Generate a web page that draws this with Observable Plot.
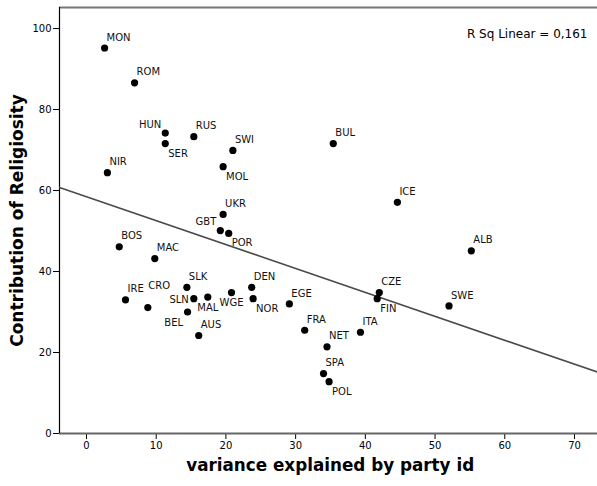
<!DOCTYPE html>
<html><head><meta charset="utf-8">
<script src="https://cdn.jsdelivr.net/npm/d3@7"></script>
<script src="https://cdn.jsdelivr.net/npm/@observablehq/plot@0.6"></script>
<style>body{margin:0;background:#fff} svg{display:block}</style>
</head><body><div id="chart"></div>
<script>
// ---- data ----
const countries = ["MON","ROM","HUN","SER","RUS","SWI","MOL","NIR","UKR","BUL","ICE","GBT","POR","BOS","MAC","SLK","IRE","CRO","SLN","MAL","BEL","WGE","AUS","DEN","NOR","EGE","FRA","NET","SPA","POL","ITA","CZE","FIN","SWE","ALB"];
const partyVariance = [2.6,6.9,11.3,11.3,15.4,21.0,19.6,3.0,19.6,35.4,44.6,19.2,20.4,4.7,9.8,14.4,5.6,8.8,15.4,17.4,14.5,20.8,16.1,23.7,23.9,29.1,31.3,34.5,34.0,34.8,39.3,42.0,41.7,52.0,55.2];
const religiosity = [95.2,86.6,74.2,71.6,73.3,69.9,65.9,64.4,54.1,71.6,57.1,50.1,49.4,46.1,43.2,36.1,33.0,31.1,33.3,33.7,30.0,34.8,24.2,36.1,33.3,32.0,25.5,21.4,14.8,12.8,25.0,34.8,33.3,31.5,45.1];
// label placement code relative to each point
const labelPlacement = ["ar","ar","al","br","ar","ar","br","ar","ar","ar","ar","al","br","ar","ar","ar","ar","ar2","l","bc","bl","bc","ar","ar","br","ar","ar","ar","ar","br","ar","ar","br","ar","ar"];
const xTicks = [0,10,20,30,40,50,60,70];
const yTicks = [0,20,40,60,80,100];
const xTitle = "variance explained by party id";
const yTitle = "Contribution of Religiosity";
const rsqText = "R Sq Linear = 0,161";

const data = countries.map((c, i) => ({c, x: partyVariance[i], y: religiosity[i], p: labelPlacement[i]}));

// least squares fit from the data
const mx = d3.mean(data, d => d.x), my = d3.mean(data, d => d.y);
const slope = d3.sum(data, d => (d.x - mx) * (d.y - my)) / d3.sum(data, d => (d.x - mx) ** 2);
const intercept = my - slope * mx;
const xDomain = [-3.87, 73.3];
const yDomain = [0, 105.2];
const fit = xDomain.map(x => ({x, y: intercept + slope * x}));

const placements = {
  ar:  {dx: 2,    dy: -10.6, textAnchor: "start"},
  ar2: {dx: 0.5,  dy: -21.5, textAnchor: "start"},
  br:  {dx: 3,    dy: 9.8,   textAnchor: "start"},
  al:  {dx: -4,   dy: -8.7,  textAnchor: "end"},
  l:   {dx: -5,   dy: 1,     textAnchor: "end"},
  bl:  {dx: -4.5, dy: 10.4,  textAnchor: "end"},
  bc:  {dx: 0,    dy: 10.6,  textAnchor: "middle"}
};
const labelMarks = Object.entries(placements).map(([code, o]) =>
  Plot.text(data.filter(d => d.p === code), {x: "x", y: "y", text: "c", dx: o.dx, dy: o.dy, textAnchor: o.textAnchor, fontSize: 10, fill: "#111"})
);

const chart = Plot.plot({
  width: 597,
  height: 486,
  marginLeft: 59,
  marginRight: 0,
  marginTop: 7,
  marginBottom: 53,
  style: {fontFamily: "DejaVu Sans", fontSize: "10px", color: "#000", background: "#fff"},
  x: {domain: xDomain, ticks: xTicks, tickSize: 6, tickPadding: 2, label: null},
  y: {domain: yDomain, ticks: yTicks, tickSize: 6, tickPadding: 2, label: null},
  marks: [
    Plot.ruleY([yDomain[1]], {stroke: "#777", strokeWidth: 2}),
    Plot.ruleY([0], {stroke: "#666", strokeWidth: 2}),
    Plot.ruleX([xDomain[0]], {stroke: "#000", strokeWidth: 1.2}),
    Plot.line(fit, {x: "x", y: "y", stroke: "#4a4a4a", strokeWidth: 1.6, clip: true}),
    Plot.dot(data, {x: "x", y: "y", r: 3.6, fill: "#000"}),
    ...labelMarks,
    Plot.text([rsqText], {text: d => d, frameAnchor: "top-right", textAnchor: "end", dx: -10, dy: 22.3, fontSize: 12}),
    Plot.text([xTitle], {text: d => d, frameAnchor: "bottom", textAnchor: "middle", dx: 1.7, dy: 37, fontSize: 16.8, fontWeight: "bold"}),
    Plot.text([yTitle], {text: d => d, frameAnchor: "left", textAnchor: "middle", rotate: -90, dx: -42, fontSize: 17, fontWeight: "bold"})
  ]
});
document.getElementById("chart").appendChild(chart);
</script>
</body></html>
